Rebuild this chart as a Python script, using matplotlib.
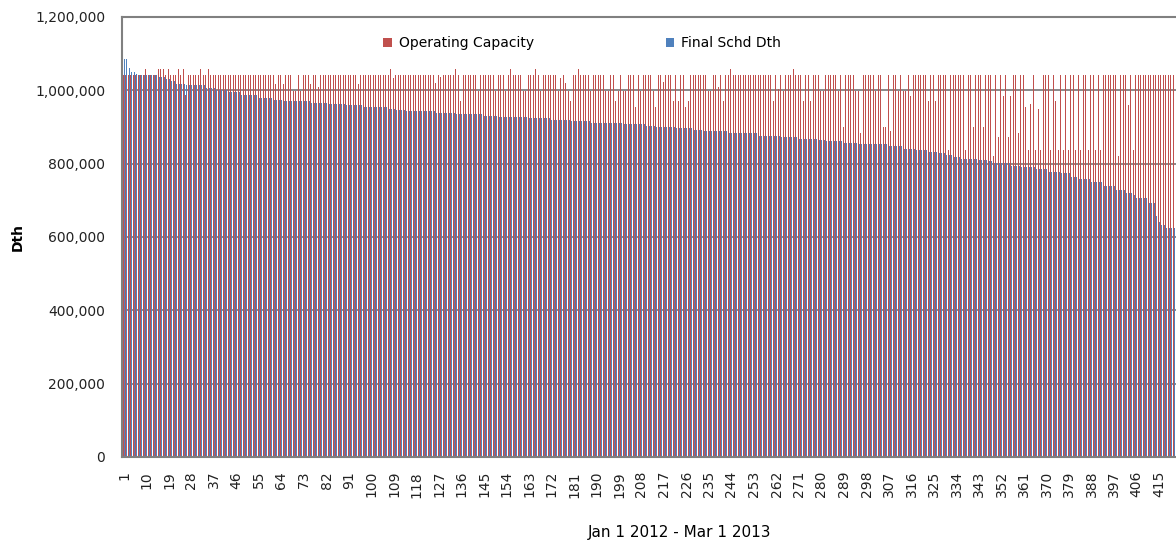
import numpy as np
import matplotlib
matplotlib.use("Agg")
import matplotlib.pyplot as plt
from matplotlib.ticker import FuncFormatter

# ---- data (values in Dth) ----
n_days = 421
days = np.arange(1, n_days + 1)

# Final Schd Dth, sorted descending: level (thousand Dth) and number of days
blue_levels = [1085, 1062, 1050, 1044, 1041, 1036, 1031, 1025, 1016, 1014,
               1007, 1000, 996, 988, 986, 979, 973, 970,
               966, 962, 959, 955, 950, 946, 945, 943, 939, 935,
               931, 928, 926, 924, 919, 916, 911, 908,
               903, 900, 898, 892, 889, 884, 876, 873, 868, 865,
               862, 857, 855, 849, 840, 838, 831, 829, 824, 819, 813, 810, 806, 803,
               801, 794, 791, 785, 777, 774, 764, 758, 750, 739, 728, 721, 715, 706,
               692, 657, 642, 633, 624]
blue_counts = [2, 1, 2, 1, 8, 3, 2, 2, 4, 8,
               4, 5, 5, 4, 3, 6, 4, 11,
               7, 7, 7, 10, 3, 4, 6, 6, 8, 11,
               6, 10, 2, 9, 8, 8, 13, 9,
               4, 8, 7, 4, 10, 12, 9, 7, 8, 3,
               7, 6, 12, 6, 5, 5, 4, 3, 3, 3, 7, 4, 2, 3,
               4, 4, 6, 5, 5, 4, 3, 5, 5, 5, 4, 3, 1, 5,
               3, 1, 1, 2, 4]

# Operating Capacity: usual level, plus the days that differ from it
cap_usual = 1041
cap_days = [10, 15, 16, 17, 19, 23, 25, 26, 32, 35, 62, 65, 69, 70,
            72, 76, 79, 95, 108, 109, 126, 128, 134, 136,
            143, 150, 154, 156, 161, 162, 166, 168, 175, 176, 178, 179, 180, 183,
            188, 194, 195, 198, 199, 201, 202, 206, 208,
            213, 214, 217, 221, 223, 226, 227, 235, 236, 239, 241, 244, 261, 263,
            265, 269, 273, 276, 280, 281,
            287, 289, 294, 295, 296, 302, 305, 306, 308, 311, 313, 314, 316, 323,
            326, 331, 338, 341, 345, 349, 351,
            353, 355, 356, 359, 362, 363, 364, 366, 367, 368, 372, 374, 375, 377,
            379, 382, 384, 387, 390, 392, 399, 403, 405]
cap_vals = [1057, 1057, 1057, 1057, 1057, 1057, 1057, 986, 1057, 1057, 1016, 1016, 998, 998,
            998, 1016, 1010, 1016, 1057, 1033, 1020, 1036, 1057, 970,
            998, 998, 998, 1057, 998, 998, 1057, 998, 998, 1033, 1020, 998, 970, 1057,
            998, 998, 998, 970, 998, 998, 998, 955, 998,
            998, 955, 1024, 970, 970, 955, 970, 998, 998, 1010, 970, 1057, 970, 1005,
            998, 1057, 970, 970, 998, 998,
            998, 900, 998, 998, 883, 998, 900, 900, 890, 998, 998, 998, 985, 970,
            970, 837, 837, 900, 900, 821, 873,
            985, 873, 985, 883, 955, 837, 964, 837, 950, 837, 837, 970, 837, 837,
            837, 837, 837, 837, 837, 837, 821, 960, 837]

final_schd = np.repeat(blue_levels, blue_counts) * 1000
capacity = np.full(n_days, cap_usual)
capacity[np.array(cap_days) - 1] = cap_vals
capacity = capacity * 1000

red = "#C0504D"
blue = "#4F81BD"
grey = "#808080"

# ---- plot ----
fig = plt.figure(figsize=(11.76, 5.48), dpi=100)
ax = fig.add_axes([122 / 1176, 91 / 548, 1 - 122 / 1176, 440 / 548])

# 2.5 px per day: red 1 px, blue 1 px, a white pixel every other day
ax.bar(days - 0.3, capacity, width=0.4, color=red, linewidth=0,
       antialiased=False, snap=True, label="Operating Capacity")
ax.bar(days + 0.1, final_schd, width=0.4, color=blue, linewidth=0,
       antialiased=False, snap=True, label="Final Schd Dth")

ax.set_xlim(0.2, 421.8)
ax.set_ylim(0, 1200000)
ax.set_yticks(np.arange(0, 1200001, 200000))
ax.yaxis.set_major_formatter(FuncFormatter(lambda v, p: f"{int(v):,}"))
ax.set_xticks(days[::9])
ax.set_xticklabels([str(d) for d in days[::9]], rotation=90)

ax.set_axisbelow(True)
ax.yaxis.grid(True, color=grey, linewidth=1.3)
ax.tick_params(axis="both", length=0, labelsize=10, colors="#222222")
ax.tick_params(axis="x", pad=10, labelsize=10)
ax.tick_params(axis="y", pad=12)

for side in ["left", "top", "bottom"]:
    ax.spines[side].set_color(grey)
    ax.spines[side].set_linewidth(1.5)
ax.spines["right"].set_visible(False)

fig.text(18 / 1176, 1 - 237 / 548, "Dth", rotation=90, ha="center",
         va="center", fontsize=10, fontweight="bold")
fig.text(680 / 1176, 1 - 533 / 548, "Jan 1 2012 - Mar 1 2013",
         ha="center", va="center", fontsize=11)

ax.legend(loc="center", bbox_to_anchor=(0.495, 1 - 43 / 548),
          bbox_transform=fig.transFigure, ncol=2, frameon=False,
          fontsize=10, handlelength=0.6, handleheight=0.6,
          handletextpad=0.5, columnspacing=9.5, borderpad=0)

fig.savefig("out.png", dpi=100)
